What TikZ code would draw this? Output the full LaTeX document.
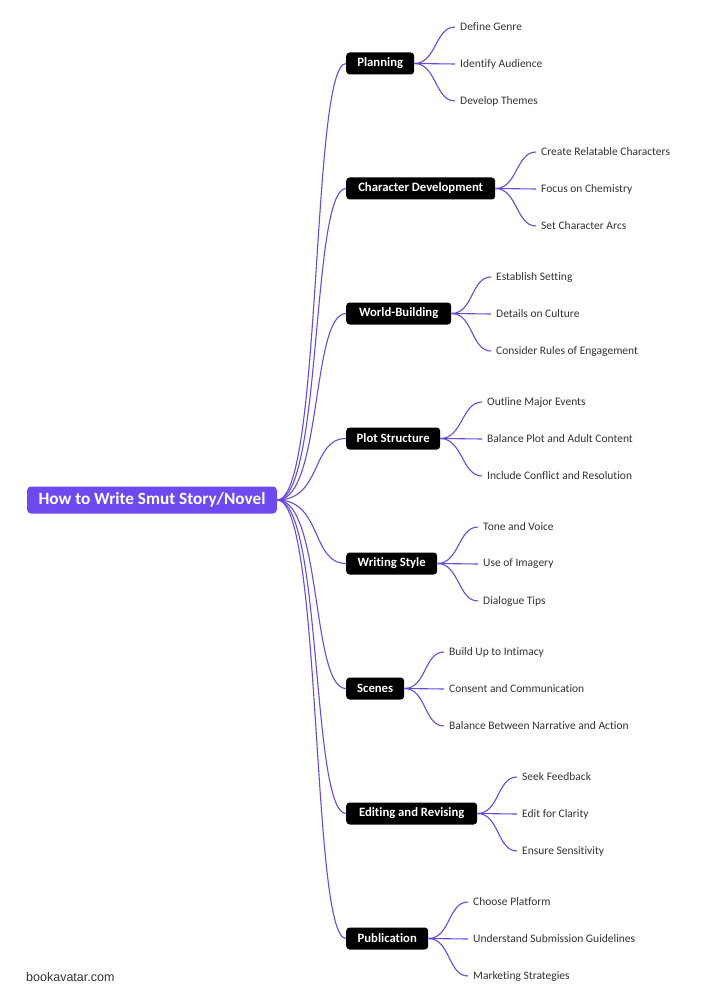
\documentclass[tikz,border=0pt]{standalone}
\usepackage{fontspec}
\setmainfont{Carlito}[Ligatures={NoCommon}]
\newfontfamily\wmfont{Liberation Sans}
\definecolor{rootpurple}{HTML}{6D4AF0}
\definecolor{linepurple}{HTML}{6A4BD8}
\definecolor{leaftext}{HTML}{333333}
\tikzset{
  rootbox/.style={fill=rootpurple, text=white, rounded corners=4pt, font=\bfseries\fontsize{17.2}{19}\selectfont, minimum height=27pt, minimum width=250pt, inner sep=0pt},
  branchbox/.style={fill=black, text=white, rounded corners=3.5pt, font=\bfseries\fontsize{12.7}{14}\selectfont, minimum height=22pt, inner sep=0pt, anchor=west},
  leafbox/.style={text=leaftext, font=\fontsize{11.5}{13}\selectfont, anchor=west, inner xsep=5pt, inner ysep=2pt},
  conn/.style={draw=linepurple, line width=1.1pt},
}
\begin{document}
\begin{tikzpicture}[x=1pt,y=-1pt]
\useasboundingbox (0,0) rectangle (707,1000);
\fill[white] (0,0) rectangle (707,1000);
\node[rootbox] (root) at (152,500) {How to Write Smut Story/Novel};
\foreach \i/\y/\w/\lx/\t/\la/\lb/\lc in {
 1/63/68/460/Planning/Define Genre/Identify Audience/Develop Themes,
 2/188/149/541/Character Development/Create Relatable Characters/Focus on Chemistry/Set Character Arcs,
 3/313/105/496/World-Building/Establish Setting/Details on Culture/Consider Rules of Engagement,
 4/438/94/487/Plot Structure/Outline Major Events/Balance Plot and Adult Content/Include Conflict and Resolution,
 5/563/91/483/Writing Style/Tone and Voice/Use of Imagery/Dialogue Tips,
 6/688/58/449/Scenes/Build Up to Intimacy/Consent and Communication/Balance Between Narrative and Action,
 7/813/131/522/Editing and Revising/Seek Feedback/Edit for Clarity/Ensure Sensitivity,
 8/938/82/473/Publication/Choose Platform/Understand Submission Guidelines/Marketing Strategies}
{
  \node[branchbox, minimum width=\w pt] (b\i) at (346,\y+0.5) {\t};
  \draw[conn] (root.east) .. controls +(45,0) and +(-35,0) .. (b\i.west);
  \node[leafbox] (l\i a) at (\lx-5,\y-36) {\la};
  \node[leafbox] (l\i b) at (\lx-5,\y+1) {\lb};
  \node[leafbox] (l\i c) at (\lx-5,\y+38) {\lc};
  \draw[conn] (b\i.east) .. controls +(22,0) and +(-20,0) .. (l\i a.west);
  \draw[conn] (b\i.east) -- (l\i b.west);
  \draw[conn] (b\i.east) .. controls +(22,0) and +(-20,0) .. (l\i c.west);
}
\node[anchor=west, inner sep=0pt, text=leaftext, font=\wmfont\fontsize{12.5}{14}\selectfont] (wm) at (26,977) {bookavatar.com};
\end{tikzpicture}
\end{document}
